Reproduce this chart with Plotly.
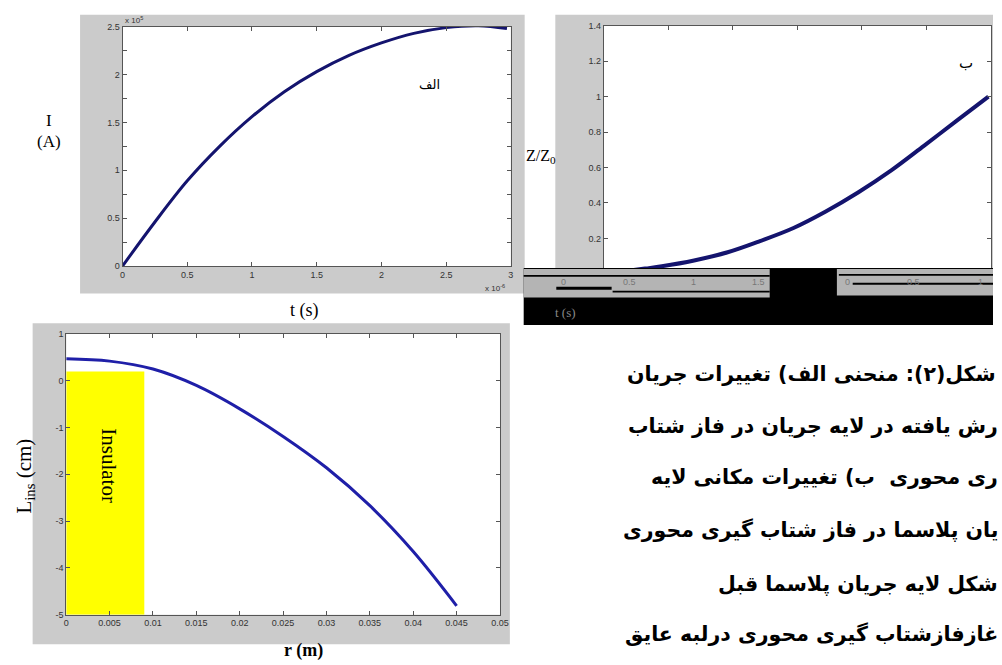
import plotly.graph_objects as go

W, H = 1002, 665
def X(px): return px / W
def Y(py): return 1 - py / H

# ---------------- data ----------------
# Panel (الف): current I (x1e5 A) vs t (x1e-6 s)
t_a = [0, 0.25, 0.5, 0.75, 1.0, 1.25, 1.5, 1.75, 2.0, 2.25, 2.5, 2.75, 2.97]
i_a = [0, 0.46, 0.89, 1.25, 1.56, 1.82, 2.03, 2.20, 2.33, 2.43, 2.49, 2.51, 2.48]
a_xticks = [0, 0.5, 1, 1.5, 2, 2.5, 3]
a_xlabels = ["0", "0.5", "1", "1.5", "2", "2.5", "3"]
a_yticks = [0, 0.5, 1, 1.5, 2, 2.5]
a_ylabels = ["0", "0.5", "1", "1.5", "2", "2.5"]

# Panel (ب): Z/Z0 vs t (x1e-6 s)
t_b = [0, 0.32, 0.45, 0.70, 0.96, 1.21, 1.47, 1.72, 1.97, 2.23, 2.48, 2.74, 2.98]
z_b = [0, 0.030, 0.043, 0.076, 0.122, 0.185, 0.259, 0.352, 0.459, 0.585, 0.722, 0.867, 1.0]
b_yticks = [0, 0.2, 0.4, 0.6, 0.8, 1, 1.2, 1.4]
b_ylabels = ["0", "0.2", "0.4", "0.6", "0.8", "1", "1.2", "1.4"]
b_xticks = [0, 0.5, 1, 1.5, 2, 2.5, 3]

# Panel (ج): L_ins (cm) vs r (m)
r_c = [0, 0.005, 0.01, 0.015, 0.02, 0.025, 0.03, 0.035, 0.04, 0.045]
l_c = [0.47, 0.42, 0.25, -0.10, -0.60, -1.19, -1.86, -2.67, -3.65, -4.81]
c_xticks = [0, 0.005, 0.01, 0.015, 0.02, 0.025, 0.03, 0.035, 0.04, 0.045, 0.05]
c_xlabels = ["0", "0.005", "0.01", "0.015", "0.02", "0.025", "0.03", "0.035", "0.04", "0.045", "0.05"]
c_yticks = [-5, -4, -3, -2, -1, 0, 1]
c_ylabels = ["-5", "-4", "-3", "-2", "-1", "0", "1"]
insulator_r = [0, 0.009]
insulator_top = 0.2
insulator_bottom = -5

caption_lines = [
    "شکل(۲): منحنی الف) تغییرات جریان",
    "رش یافته در لایه جریان در فاز شتاب",
    "ری محوری  ب) تغییرات مکانی لایه",
    "یان پلاسما در فاز شتاب گیری محوری",
    "شکل لایه جریان پلاسما قبل",
    "غازفازشتاب گیری محوری درلبه عایق",
]

# ---------------- figure ----------------
fig = go.Figure()
navy = "#14146e"
blue = "#1f1fa8"
fig.add_trace(go.Scatter(x=t_a, y=i_a, mode="lines", line=dict(color=navy, width=3, shape="spline"),
                         xaxis="x", yaxis="y", showlegend=False, hoverinfo="skip"))
fig.add_trace(go.Scatter(x=t_b, y=z_b, mode="lines", line=dict(color=navy, width=4, shape="spline"),
                         xaxis="x2", yaxis="y2", showlegend=False, hoverinfo="skip"))
fig.add_trace(go.Scatter(x=r_c, y=l_c, mode="lines", line=dict(color=blue, width=3, shape="spline"),
                         xaxis="x3", yaxis="y3", showlegend=False, hoverinfo="skip"))

tickfont = dict(family="Arial, Liberation Sans", size=9, color="#333")
common = dict(showline=True, linecolor="#555", linewidth=1, mirror="ticks", ticks="inside",
              ticklen=4, tickcolor="#555", showgrid=False, zeroline=False, tickfont=tickfont,
              fixedrange=True)

fig.update_layout(
    width=W, height=H, margin=dict(l=0, r=0, t=0, b=0),
    paper_bgcolor="white", plot_bgcolor="rgba(0,0,0,0)",
    xaxis=dict(domain=[X(121), X(514)], range=[0, 3], tickvals=a_xticks, ticktext=a_xlabels,
               anchor="y", **common),
    yaxis=dict(domain=[Y(265), Y(22)], range=[0, 2.5], tickvals=a_yticks, ticktext=a_ylabels,
               anchor="x", minor=dict(dtick=0.25, ticks="inside", ticklen=4, tickcolor="#555"),
               **common),
    xaxis2=dict(domain=[X(608), X(1000)], range=[0, 3], tickvals=b_xticks, showticklabels=False,
                anchor="y2", **common),
    yaxis2=dict(domain=[Y(273), Y(21)], range=[0, 1.4], tickvals=b_yticks, ticktext=b_ylabels,
                anchor="x2", **common),
    xaxis3=dict(domain=[X(64), X(503)], range=[0, 0.05], tickvals=c_xticks, ticktext=c_xlabels,
                anchor="y3", **common),
    yaxis3=dict(domain=[Y(619), Y(334)], range=[-5, 1], tickvals=c_yticks, ticktext=c_ylabels,
                anchor="x3", **common),
)

grey = "#cbcbcb"
shapes = []
def prect(x0, y0, x1, y1, color, layer="below"):
    shapes.append(dict(type="rect", xref="paper", yref="paper", x0=X(x0), x1=X(x1), y0=Y(y1), y1=Y(y0),
                       fillcolor=color, line=dict(width=0), layer=layer))

# grey figure backgrounds + white axes areas
prect(78, 10, 528, 293, grey)
prect(121, 22, 514, 265, "white")
prect(559, 10, 1002, 268, grey)
prect(608, 21, 1000, 273, "white")
prect(30, 323, 513, 649, grey)
prect(64, 334, 503, 619, "white")

# insulator block (data coordinates)
shapes.append(dict(type="rect", xref="x3", yref="y3", x0=insulator_r[0], x1=insulator_r[1],
                   y0=insulator_bottom, y1=insulator_top, fillcolor="#ffff00",
                   line=dict(width=0), layer="below"))

# corrupted black band under panel (ب)
prect(527, 267, 1002, 325, "black", "above")
prect(527, 268, 776, 297, "#b4b4b4", "above")
prect(527, 274, 776, 276, "black", "above")
prect(560, 286, 616, 289, "black", "above")
prect(617, 290, 776, 292, "black", "above")
prect(844, 268, 1002, 295, "#b4b4b4", "above")
prect(846, 273, 1002, 275, "black", "above")
prect(860, 282, 1002, 284, "black", "above")
fig.update_layout(shapes=shapes)

serif = "Liberation Serif, Times New Roman, serif"
ann = []
def text(x, y, s, size, color="black", family=serif, xanchor="center", angle=0):
    ann.append(dict(xref="paper", yref="paper", x=X(x), y=Y(y), text=s, showarrow=False,
                    xanchor=xanchor, yanchor="middle", textangle=angle,
                    font=dict(family=family, size=size, color=color)))

text(47, 117, "I", 17)
text(47, 139, "(A)", 17)
text(305, 310, "t (s)", 18)
text(121, 15, "x 10<sup>5</sup>", 8, "#333", "Arial, Liberation Sans", "left")
text(510, 287, "x 10<sup>-6</sup>", 8, "#333", "Arial, Liberation Sans", "right")
text(432, 81, "الف", 13, "black", "DejaVu Sans")
text(527, 154, "Z/Z<sub>0</sub>", 16, "black", serif, "left")
text(975, 59, "ب", 15, "black", "DejaVu Sans")
text(22, 478, "L<sub>ins</sub> (cm)", 21, "black", serif, "center", -90)
text(304, 655, "<b>r (m)</b>", 18)
text(107, 468, "Insulator", 21, "black", serif, "center", 90)
# garbled tick labels in corrupted band
for px, s in zip([567, 634, 699, 765], ["0", "0.5", "1", "1.5"]):
    text(px, 281, s, 9, "#777", "Arial, Liberation Sans")
for px, s in zip([855, 922, 989], ["0", "0.5", "1"]):
    text(px, 281, s, 9, "#777", "Arial, Liberation Sans")
text(569, 312, "t (s)", 13, "#888")

# caption
rights = [1007, 1009, 1009, 1009, 1009, 1009]
ys = [375, 427, 479, 533, 588, 639]
for s, rx, yy in zip(caption_lines, rights, ys):
    text(rx, yy, "<b>" + s + "</b>", 20.5, "black", "DejaVu Sans", "right")

fig.update_layout(annotations=ann)
fig.write_html("out.html", post_script="document.body.style.margin='0';",
               config={"displayModeBar": False})
